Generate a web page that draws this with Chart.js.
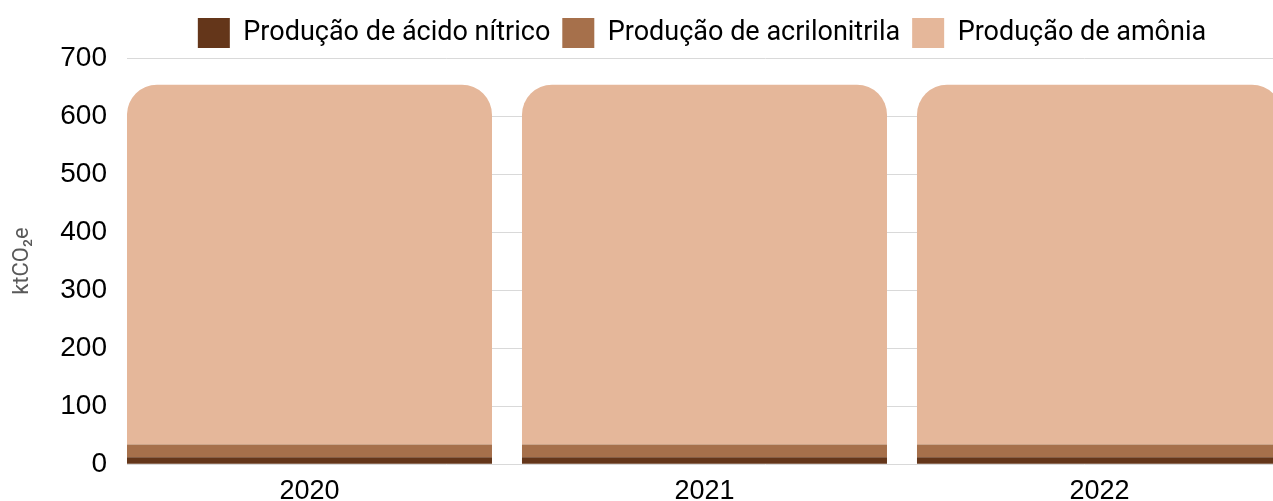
<!DOCTYPE html>
<html>
<head>
<meta charset="utf-8">
<script src="https://cdn.jsdelivr.net/npm/chart.js@4"></script>
<style>
  html, body { margin: 0; padding: 0; background: #fff; overflow: hidden; }
  #wrap { width: 1404px; height: 501px; }
</style>
</head>
<body>
<div id="wrap"><canvas id="c" width="1404" height="501"></canvas></div>
<script>
const categories = ['2020', '2021', '2022'];
const acidoNitrico = [12, 12, 12];
const acrilonitrila = [22, 22, 22];
const amonia = [620, 620, 620];
const yTicks = [0, 100, 200, 300, 400, 500, 600, 700];

const toPoints = arr => arr.map((v, i) => ({ x: i, y: v }));

const halfBar = 0.462;
const pxPerCat = 395;
const plotLeft = 127;
const canvasW = 1404;

new Chart(document.getElementById('c'), {
  type: 'bar',
  data: {
    datasets: [
      { label: 'Produção de ácido nítrico', data: toPoints(acidoNitrico), backgroundColor: '#64361a' },
      { label: 'Produção de acrilonitrila', data: toPoints(acrilonitrila), backgroundColor: '#a6704b' },
      { label: 'Produção de amônia', data: toPoints(amonia), backgroundColor: '#e5b79a',
        borderRadius: { topLeft: 30, topRight: 30, bottomLeft: 0, bottomRight: 0 } }
    ]
  },
  options: {
    responsive: false,
    animation: false,
    categoryPercentage: 1,
    barPercentage: 365 / 395,
    layout: { padding: { top: 6, left: 0, right: 0, bottom: 0 } },
    plugins: {
      tooltip: { enabled: false },
      legend: {
        position: 'top',
        align: 'center',
        labels: {
          boxWidth: 32,
          boxHeight: 30,
          padding: 12,
          color: '#000',
          font: { family: 'Roboto', size: 27 }
        }
      }
    },
    scales: {
      x: {
        type: 'linear',
        stacked: true,
        offset: false,
        bounds: 'data',
        min: -halfBar,
        max: -halfBar + (canvasW - plotLeft) / pxPerCat,
        grid: { display: false },
        border: { display: false },
        afterFit: s => { s.height = 36; },
        afterBuildTicks: s => { s.ticks = categories.map((c, i) => ({ value: i })); },
        ticks: {
          autoSkip: false,
          maxRotation: 0,
          padding: 3,
          color: '#000',
          font: { family: 'Liberation Sans', size: 27 },
          callback: v => categories[Math.round(v)] ?? ''
        }
      },
      y: {
        stacked: true,
        min: 0,
        max: 700,
        afterFit: s => { s.width = plotLeft; },
        afterBuildTicks: s => { s.ticks = yTicks.map(v => ({ value: v })); },
        grid: { color: '#d9d9d9', lineWidth: 1, drawTicks: false },
        border: { display: false },
        title: {
          display: true,
          text: 'ktCO₂e',
          color: '#595959',
          padding: { top: 9, bottom: 0 },
          font: { family: 'Roboto', size: 22 }
        },
        ticks: {
          padding: 20,
          color: '#000',
          font: { family: 'Liberation Sans', size: 28 }
        }
      }
    }
  }
});
</script>
</body>
</html>
